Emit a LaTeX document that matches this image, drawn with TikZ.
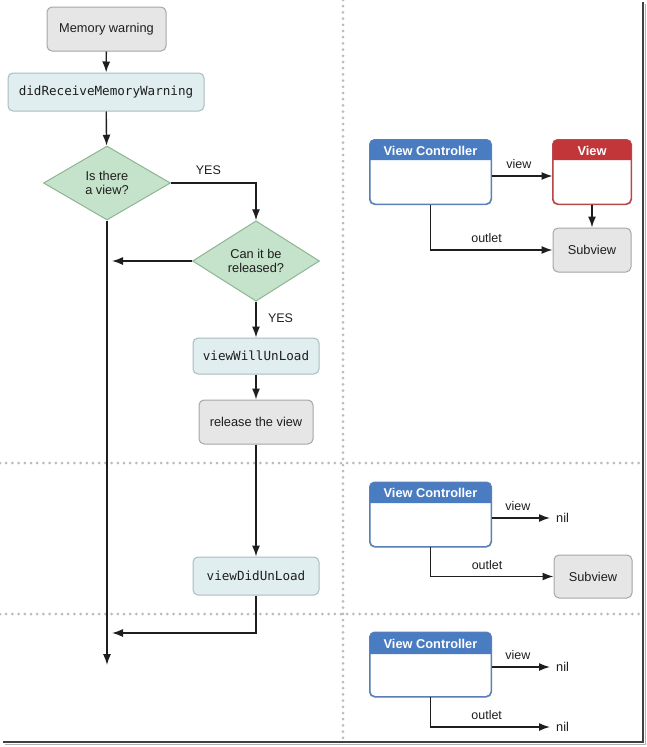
\documentclass[tikz,border=0pt]{standalone}
\usepackage{fontspec}
\setmainfont{Liberation Sans}
\newfontfamily\codefont{DejaVu Sans Mono}
\usetikzlibrary{shapes.geometric,arrows.meta,calc}
\definecolor{grayfill}{HTML}{E6E6E6}
\definecolor{grayline}{HTML}{A6A6A6}
\definecolor{bluefill}{HTML}{E1EEEF}
\definecolor{blueline}{HTML}{A8BCBE}
\definecolor{greenfill}{HTML}{C5E3CA}
\definecolor{greenline}{HTML}{8DB593}
\definecolor{vcblue}{HTML}{4A7CC2}
\definecolor{vcline}{HTML}{5A80B8}
\definecolor{vred}{HTML}{C2363A}
\definecolor{vredline}{HTML}{B8484A}
\definecolor{dotgray}{HTML}{BBBBBB}
\definecolor{ink}{HTML}{1E1E1E}
\tikzset{
  x=1pt, y=-1pt,
  every node/.style={font=\fontsize{12.8}{14.8}\selectfont, text=ink},
  graybox/.style={draw=grayline, fill=grayfill, rounded corners=5pt, line width=1pt, inner sep=0pt},
  codebox/.style={draw=blueline, fill=bluefill, rounded corners=5pt, line width=1pt, inner sep=0pt, font=\codefont\fontsize{12.6}{14.6}\selectfont},
  decision/.style={diamond, draw=greenline, fill=greenfill, line width=1pt, inner sep=0pt, align=center, minimum width=127pt, minimum height=74pt},
  vcbox/.style={draw=vcline, fill=white, rounded corners=5pt, line width=1pt, minimum width=121pt, minimum height=64pt, inner sep=0pt},
  vbox/.style={draw=vredline, fill=white, rounded corners=5pt, line width=1pt, minimum width=78pt, minimum height=64pt, inner sep=0pt},
  flow/.style={draw=ink, line width=1.4pt, -{Latex[length=11pt,width=8pt]}},
  lbl/.style={font=\fontsize{12.5}{14}\selectfont},
  hdr/.style={text=white, font=\bfseries\fontsize{12.8}{14.8}\selectfont},
  sep/.style={draw=dotgray, line width=3pt, dash pattern=on 0pt off 6.2pt, line cap=round}
}
\begin{document}
\begin{tikzpicture}
\useasboundingbox (0,0) rectangle (647,747);
% separators
\path[sep] (343,0) -- (343,742);
\path[sep] (0,463) -- (640,463);
\path[sep] (0,614) -- (640,614);
% frame shadow
\draw[line width=2.6pt, color=black!75] (643,2) -- (643,742) -- (3,742);
\draw[line width=1pt, color=black!30] (645.5,4) -- (645.5,744.5) -- (5,744.5);

% flowchart
\node[graybox, minimum width=119pt, minimum height=44pt] (mw) at (106.5,29) {Memory warning};
\node[codebox, minimum width=196pt, minimum height=38pt] (drmw) at (106,92) {didReceiveMemoryWarning};
\node[decision] (d1) at (107,183) {Is there\\a view?};
\node[decision] (d2) at (256,261) {Can it be\\released?};
\node[codebox, minimum width=126pt, minimum height=36pt] (vwu) at (256,356) {viewWillUnLoad};
\node[graybox, minimum width=114pt, minimum height=44pt] (rel) at (256,422) {release the view};
\node[codebox, minimum width=126pt, minimum height=38pt] (vdu) at (256,576) {viewDidUnLoad};
\coordinate (j1) at (112,261);
\coordinate (j2) at (112,633);
\coordinate (bend2) at (256,633);
\coordinate (endd) at (107,665);

\draw[flow] (mw) -- (drmw);
\draw[flow] (drmw) -- (d1);
\draw[flow] (d1.east) -| node[lbl, pos=0.22, above=4pt] {YES} (d2.north);
\draw[flow] (d2.west) -- (j1);
\draw[flow] (d2.south) -- node[lbl, right=8pt, pos=0.45] {YES} (vwu.north);
\draw[flow] (vwu) -- (rel);
\draw[flow] (rel) -- (vdu);
\draw[flow] (vdu.south) -- (bend2) -- (j2);
\draw[flow] (d1.south) -- (endd);

% panel 1
\node[vcbox] (vc1) at (430.5,172) {};
\fill[vcblue, rounded corners=5pt] (vc1.west |- 0,160) -- (vc1.north west) -- (vc1.north east) [sharp corners] -- (vc1.east |- 0,160) -- cycle;
\draw[vcline, line width=1pt, rounded corners=5pt] (vc1.south west) rectangle (vc1.north east);
\node[hdr] (vc1h) at (430.5,151) {View Controller};
\node[vbox] (v1) at (592,172) {};
\fill[vred, rounded corners=5pt] (v1.west |- 0,160) -- (v1.north west) -- (v1.north east) [sharp corners] -- (v1.east |- 0,160) -- cycle;
\draw[vredline, line width=1pt, rounded corners=5pt] (v1.south west) rectangle (v1.north east);
\node[hdr] (v1h) at (592,151) {View};
\node[graybox, minimum width=78pt, minimum height=44pt] (s1) at (592,250) {Subview};
\draw[flow] ($(vc1.east)+(0,4)$) -- node[lbl, above=3pt, pos=0.45] {view} ($(v1.west)+(0,4)$);
\draw[flow] (v1.south) -- (s1.north);
\draw[flow] (vc1.south) |- node[lbl, above=3pt, pos=0.73] {outlet} (s1.west);

% panel 2
\node[vcbox] (vc2) at (430.5,514.5) {};
\fill[vcblue, rounded corners=5pt] (vc2.west |- 0,503) -- (vc2.north west) -- (vc2.north east) [sharp corners] -- (vc2.east |- 0,503) -- cycle;
\draw[vcline, line width=1pt, rounded corners=5pt] (vc2.south west) rectangle (vc2.north east);
\node[hdr] (vc2h) at (430.5,493) {View Controller};
\node[inner sep=0pt, anchor=west] (nil2) at (556,518) {nil};
\node[graybox, minimum width=78pt, minimum height=43pt] (s2) at (593,576.5) {Subview};
\draw[flow] ($(vc2.east)+(0,3.5)$) -- node[lbl, above=3pt, pos=0.45] {view} ($(nil2.west)+(-6,0)$);
\draw[flow] (vc2.south) |- node[lbl, above=3pt, pos=0.73] {outlet} (s2.west);

% panel 3
\node[vcbox] (vc3) at (430.5,664.5) {};
\fill[vcblue, rounded corners=5pt] (vc3.west |- 0,654) -- (vc3.north west) -- (vc3.north east) [sharp corners] -- (vc3.east |- 0,654) -- cycle;
\draw[vcline, line width=1pt, rounded corners=5pt] (vc3.south west) rectangle (vc3.north east);
\node[hdr] (vc3h) at (430.5,644) {View Controller};
\node[inner sep=0pt, anchor=west] (nil3a) at (556,667) {nil};
\node[inner sep=0pt, anchor=west] (nil3b) at (556,727) {nil};
\draw[flow] ($(vc3.east)+(0,2.5)$) -- node[lbl, above=3pt, pos=0.45] {view} ($(nil3a.west)+(-6,0)$);
\draw[flow] (vc3.south) |- node[lbl, above=3pt, pos=0.735] {outlet} ($(nil3b.west)+(-6,0)$);
\end{tikzpicture}
\end{document}
